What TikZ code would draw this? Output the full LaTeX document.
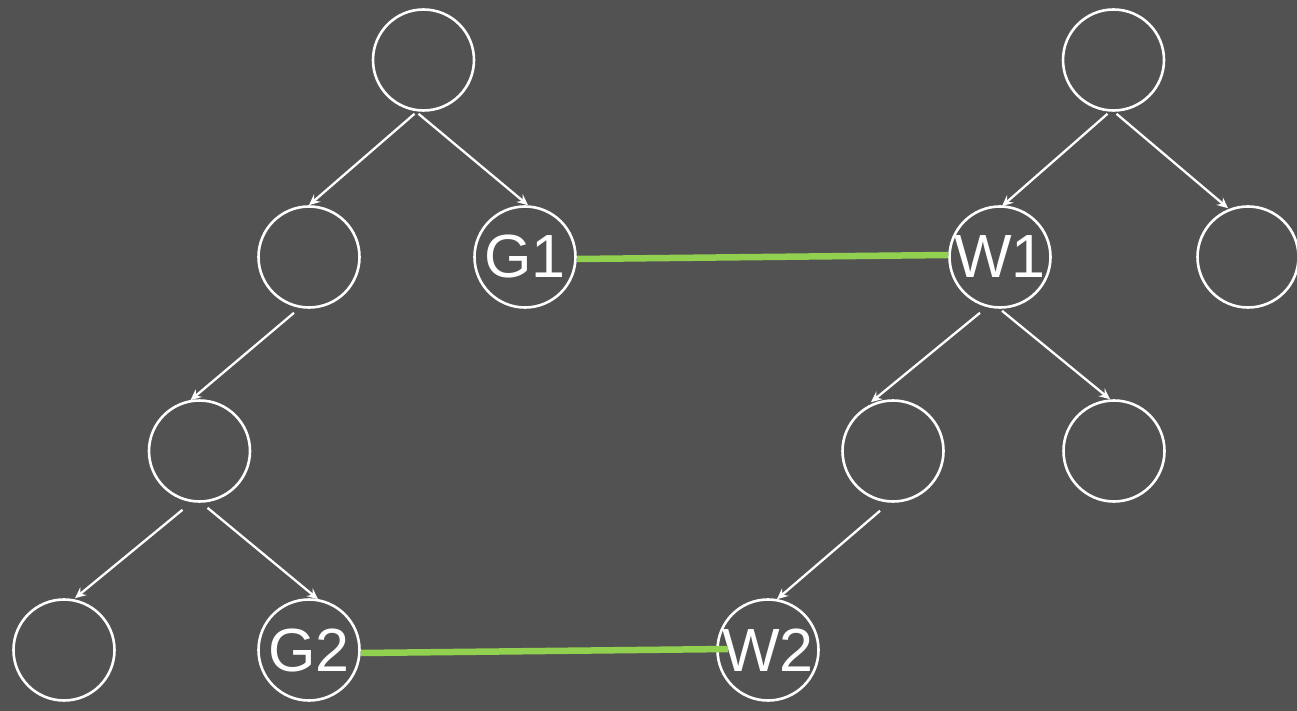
\documentclass[tikz,border=0pt]{standalone}
\usepackage{fontspec}
\setmainfont{Liberation Sans}
\usetikzlibrary{arrows.meta}
\definecolor{bg}{HTML}{525252}
\definecolor{lgreen}{HTML}{92D050}
\begin{document}
\begin{tikzpicture}[x=1pt,y=-1pt,
  treenode/.style={circle,draw=white,line width=2.6pt,minimum size=101pt,inner sep=0pt,text=white,font=\fontsize{61}{61}\selectfont},
  edge/.style={draw=white,line width=2.3pt,-{Stealth[length=11pt,width=10pt,inset=4pt]}},
  match/.style={draw=lgreen,line width=6.5pt}]
\fill[bg] (0,0) rectangle (1297,711);
\useasboundingbox (0,0) rectangle (1297,711);
% left tree
\node[treenode] (lr) at (423.5,60) {};
\node[treenode] (la) at (309,257) {};
\node[treenode] (g1) at (525,257) {G1};
\node[treenode] (lb) at (199.5,451) {};
\node[treenode] (lc) at (64,650) {};
\node[treenode] (g2) at (309,650) {G2};
% right tree
\node[treenode] (rr) at (1113.5,60) {};
\node[treenode] (w1) at (1000,257) {W1};
\node[treenode] (rb) at (1248,257) {};
\node[treenode] (wa) at (893,451) {};
\node[treenode] (wb) at (1114,451) {};
\node[treenode] (w2) at (768,650) {W2};
% edges
\draw[edge] ([xshift=-9pt,yshift=-2pt]lr.south) -- (la.north);
\draw[edge] ([xshift=-5pt,yshift=-2pt]lr.south) -- ([xshift=3pt]g1.north);
\draw[edge] ([xshift=-15pt,yshift=-4pt]la.south) -- ([xshift=-9pt,yshift=-1pt]lb.north);
\draw[edge] ([xshift=-17pt,yshift=-7pt]lb.south) -- ([xshift=11pt]lc.north);
\draw[edge] ([xshift=8pt,yshift=-5pt]lb.south) -- ([xshift=9pt,yshift=-1pt]g2.north);
\draw[edge] ([xshift=-6pt,yshift=-2pt]rr.south) -- ([xshift=2pt,yshift=-1pt]w1.north);
\draw[edge] ([xshift=3pt,yshift=-2pt]rr.south) -- ([xshift=-20pt,yshift=-3pt]rb.north);
\draw[edge] ([xshift=-20pt,yshift=-4pt]w1.south) -- ([xshift=-22pt,yshift=-3pt]wa.north);
\draw[edge] ([xshift=2pt,yshift=-2pt]w1.south) -- ([xshift=-4pt]wb.north);
\draw[edge] ([xshift=-13pt,yshift=-8pt]wa.south) -- ([xshift=9pt,yshift=-1pt]w2.north);
% matches
\draw[match] ([yshift=-2pt]g1.east) -- ([yshift=2pt]w1.west);
\draw[match] ([yshift=-3pt]g2.east) -- ([xshift=12pt,yshift=1pt]w2.west);
\end{tikzpicture}
\end{document}
